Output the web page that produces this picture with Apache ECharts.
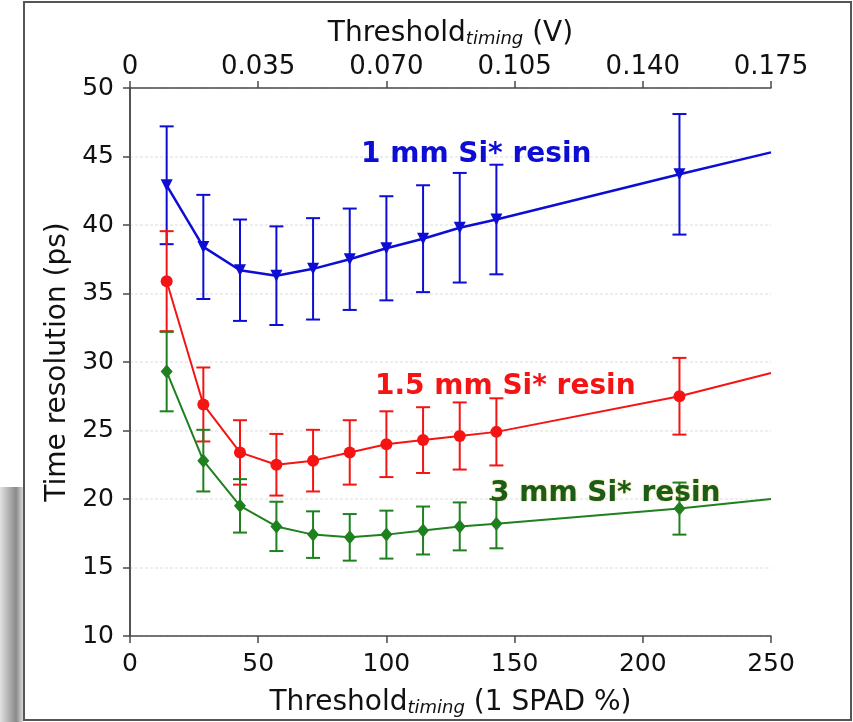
<!DOCTYPE html>
<html>
<head>
<meta charset="UTF-8">
<title>time resolution</title>
<script type="text/javascript" src="https://cdn.jsdelivr.net/npm/echarts@6/dist/echarts.min.js"></script>
<style>
  html, body { margin: 0; padding: 0; background: #fff; }
</style>
</head>
<body>
<div id="main" style="width: 853px; height: 722px"></div>

<script type="text/javascript">
	// threshold (1 SPAD %) for each measurement
	var thrPct = [14.3, 28.6, 42.9, 57.1, 71.4, 85.7, 100, 114.3, 128.6, 142.9, 214.3];

	// 1 mm Si* resin
	var res1 = [42.9, 38.4, 36.7, 36.3, 36.8, 37.5, 38.3, 39.0, 39.8, 40.4, 43.7];
	var err1 = [4.3, 3.8, 3.7, 3.6, 3.7, 3.7, 3.8, 3.9, 4.0, 4.0, 4.4];
	// 1.5 mm Si* resin
	var res15 = [35.9, 26.9, 23.4, 22.5, 22.8, 23.4, 24.0, 24.3, 24.6, 24.9, 27.5];
	var err15 = [3.65, 2.7, 2.35, 2.25, 2.25, 2.35, 2.4, 2.4, 2.45, 2.45, 2.8];
	// 3 mm Si* resin
	var res3 = [29.3, 22.8, 19.5, 18.0, 17.4, 17.2, 17.4, 17.7, 18.0, 18.2, 19.3];
	var err3 = [2.9, 2.25, 1.95, 1.8, 1.7, 1.7, 1.75, 1.75, 1.75, 1.8, 1.9];

	// where each line leaves the frame on the right (x = 250)
	var lineEndX = 250;
	var lineEnd = [45.3, 29.2, 20.0];

	// conversion % -> V for the top axis
	var voltPerPct = 0.0007;

	var labels = ['1 mm Si* resin', '1.5 mm Si* resin', '3 mm Si* resin'];

	var cBlue = '#0d0dd4';
	var cRed = '#f41414';
	var cGreen = '#1e801e';

	var mychart = echarts.init(document.getElementById('main'));

	function lineData(vals, endVal) {
		var d = [];
		for (var i = 0; i < thrPct.length; i++) {
			d.push([thrPct[i], vals[i]]);
		}
		d.push({ value: [lineEndX, endVal], symbol: 'none' });
		return d;
	}

	function errData(vals, errs) {
		var d = [];
		for (var i = 0; i < thrPct.length; i++) {
			d.push([thrPct[i], vals[i], errs[i]]);
		}
		return d;
	}

	function errRender(color) {
		return function (params, api) {
			var x = api.value(0), y = api.value(1), e = api.value(2);
			var top = api.coord([x, y + e]);
			var bot = api.coord([x, y - e]);
			var w = 7;
			var st = { stroke: color, lineWidth: 2 };
			return {
				type: 'group',
				children: [
					{ type: 'line', shape: { x1: top[0], y1: top[1], x2: bot[0], y2: bot[1] }, style: st },
					{ type: 'line', shape: { x1: top[0] - w, y1: top[1], x2: top[0] + w, y2: top[1] }, style: st },
					{ type: 'line', shape: { x1: bot[0] - w, y1: bot[1], x2: bot[0] + w, y2: bot[1] }, style: st }
				]
			};
		};
	}

	var axisCol = '#4a4a4a';
	var font = 'DejaVu Sans';
	var nameRich = {
		a: { fontFamily: font, fontSize: 28, color: '#111', lineHeight: 34, verticalAlign: 'bottom' },
		b: { fontFamily: font, fontSize: 18, fontStyle: 'italic', color: '#111', lineHeight: 12, verticalAlign: 'bottom' }
	};

	var option = {
		animation: false,
		grid: { left: 130, right: 82, top: 88, bottom: 78 },
		xAxis: [{
			type: 'value',
			position: 'bottom',
			min: 0, max: 250, interval: 50,
			name: '{a|Threshold}{b|timing}{a| (1 SPAD %)}',
			nameLocation: 'middle',
			nameGap: 47,
			nameTextStyle: { rich: nameRich },
			axisLine: { lineStyle: { color: axisCol, width: 1.5 } },
			axisTick: { length: 7, lineStyle: { color: axisCol, width: 1.5 } },
			axisLabel: { fontFamily: font, fontSize: 25, color: '#111', margin: 16 },
			splitLine: { show: false }
		}, {
			type: 'value',
			position: 'top',
			min: 0, max: 250, interval: 50,
			name: '{a|Threshold}{b|timing}{a| (V)}',
			nameLocation: 'middle',
			nameGap: 40,
			nameTextStyle: { rich: nameRich },
			axisLine: { lineStyle: { color: axisCol, width: 1.5 } },
			axisTick: { length: 7, lineStyle: { color: axisCol, width: 1.5 } },
			axisLabel: {
				fontFamily: font, fontSize: 26, color: '#111', margin: 8,
				formatter: function (v) { return v === 0 ? '0' : (v * voltPerPct).toFixed(3); }
			},
			splitLine: { show: false }
		}],
		yAxis: [{
			type: 'value',
			min: 10, max: 50, interval: 5,
			name: 'Time resolution (ps)',
			nameLocation: 'middle',
			nameGap: 58,
			nameTextStyle: { fontFamily: font, fontSize: 28, color: '#111' },
			axisLine: { show: true, lineStyle: { color: axisCol, width: 1.5 } },
			axisTick: { show: true, length: 7, lineStyle: { color: axisCol, width: 1.5 } },
			axisLabel: { fontFamily: font, fontSize: 25, color: '#111', margin: 16 },
			splitLine: { show: true, lineStyle: { color: '#e9e9e9', width: 1.5, type: [3, 2] } }
		}, {
			type: 'value',
			position: 'right',
			min: 10, max: 50, interval: 5,
			axisLine: { show: true, lineStyle: { color: axisCol, width: 1.5 } },
			axisTick: { show: false },
			axisLabel: { show: false },
			splitLine: { show: false }
		}],
		series: [{
			name: labels[0] + ' err', type: 'custom', xAxisIndex: 0, yAxisIndex: 0,
			renderItem: errRender(cBlue), data: errData(res1, err1), encode: { x: 0, y: 1 }, z: 2
		}, {
			name: labels[0], type: 'line', data: lineData(res1, lineEnd[0]),
			symbol: 'triangle', symbolRotate: 180, symbolSize: 12,
			lineStyle: { color: cBlue, width: 2.5 }, itemStyle: { color: cBlue }, z: 3
		}, {
			name: labels[1] + ' err', type: 'custom',
			renderItem: errRender(cRed), data: errData(res15, err15), encode: { x: 0, y: 1 }, z: 4
		}, {
			name: labels[1], type: 'line', data: lineData(res15, lineEnd[1]),
			symbol: 'circle', symbolSize: 12,
			lineStyle: { color: cRed, width: 2 }, itemStyle: { color: cRed }, z: 5
		}, {
			name: labels[2] + ' err', type: 'custom',
			renderItem: errRender(cGreen), data: errData(res3, err3), encode: { x: 0, y: 1 }, z: 6
		}, {
			name: labels[2], type: 'line', data: lineData(res3, lineEnd[2]),
			symbol: 'diamond', symbolSize: [12, 14],
			lineStyle: { color: cGreen, width: 2 }, itemStyle: { color: cGreen }, z: 7
		}],
		graphic: [
			// outer frame of the figure
			{ type: 'rect', shape: { x: 24, y: 2, width: 827, height: 718 },
			  style: { fill: 'none', stroke: '#555', lineWidth: 2 }, z: 100 },
			// grey shade at left bottom
			{ type: 'rect', shape: { x: 0, y: 487, width: 23, height: 235 },
			  style: { fill: new echarts.graphic.LinearGradient(0, 0, 1, 0, [
				{ offset: 0, color: '#e2e2e2' }, { offset: 0.7, color: '#8a8a8a' }, { offset: 1, color: '#d8d8d8' }
			  ]) }, z: 100 },
			{ type: 'text', left: 361, top: 141, z: 100,
			  style: { text: labels[0], fill: cBlue, font: 'bold 28px "DejaVu Sans"' } },
			{ type: 'text', left: 375, top: 373, z: 100,
			  style: { text: labels[1], fill: cRed, font: 'bold 28px "DejaVu Sans"' } },
			{ type: 'text', left: 490, top: 480, z: 100,
			  style: { text: labels[2], fill: '#1b5c1b', font: 'bold 28px "DejaVu Sans"',
			           textShadowColor: 'rgba(210,180,0,0.7)', textShadowBlur: 2 } }
		]
	};

	mychart.setOption(option);
</script>
</body>
</html>
